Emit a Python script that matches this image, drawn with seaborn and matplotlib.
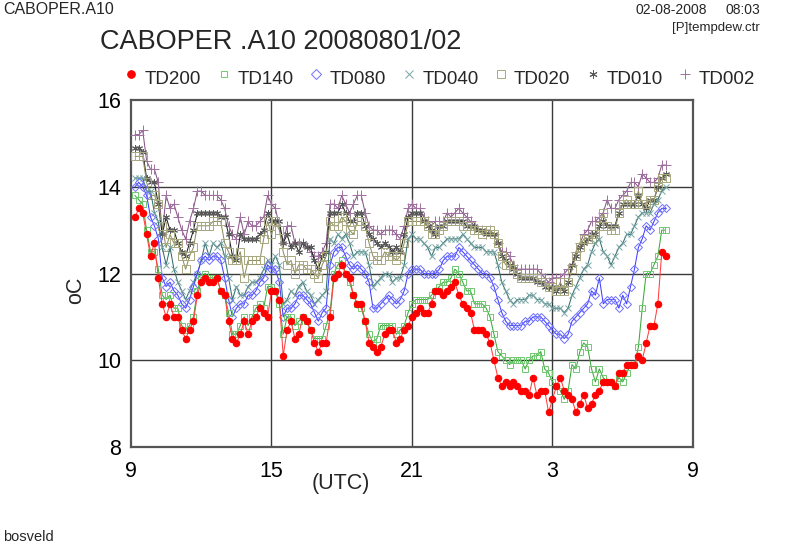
import numpy as np
import pandas as pd
import matplotlib
matplotlib.use("Agg")
import matplotlib.pyplot as plt
from matplotlib.lines import Line2D
import seaborn as sns

# ---------------- data (10-minute values, 09:10 .. 07:50 UTC) ----------------
start_hour = 9 + 10 / 60.0
step_hour = 10 / 60.0

td200 = [13.3, 13.5, 13.4, 12.9, 12.4, 12.7, 11.9, 11.3, 11.0, 11.3, 11.0, 11.0,
         10.7, 10.5, 10.7, 10.9, 11.5, 11.8, 11.9, 11.8, 11.8, 11.9, 11.6, 11.5,
         10.9, 10.5, 10.4, 10.6, 10.9, 10.6, 10.9, 11.0, 11.2, 11.1, 11.0, 11.6,
         11.6,
         11.4, 10.1, 10.7, 10.9, 10.5, 10.6, 11.0, 10.9, 10.7, 10.4, 10.2, 10.4,
         10.4, 11.0, 11.9, 12.0, 12.2, 12.0, 11.9, 11.5, 11.3, 11.3, 10.9, 10.4,
         10.3, 10.2, 10.3, 10.6, 10.7, 10.7, 10.4, 10.5, 10.7, 10.8, 11.0, 11.1, 11.2,
         11.1, 11.1, 11.3, 11.6, 11.6, 11.5, 11.6, 11.7, 11.8, 11.5, 11.3, 11.2,
         11.1, 10.7, 10.7, 10.7, 10.6, 10.4, 10.0, 9.6, 9.4, 9.5, 9.4, 9.5,
         9.4, 9.3, 9.3, 9.2, 9.6, 9.2, 9.3, 9.3, 8.8, 9.1, 9.4, 9.6,
         9.3, 9.2, 9.1, 8.8, 9.0, 9.2, 8.9, 9.0, 9.2, 9.3, 9.5, 9.5,
         9.5, 9.4, 9.7, 9.7, 9.9, 9.9, 9.9, 10.1, 10.0, 10.4, 10.8, 10.8,
         11.3, 12.5, 12.4]

td140 = [13.8, 13.7, 13.6, 13.0, 12.5, 12.5, 12.1, 11.5, 11.4, 11.5, 11.2, 11.2,
         10.8, 10.7, 10.8, 11.0, 11.6, 11.9, 12.0, 11.9, 11.9, 11.9, 11.6, 11.5,
         11.1, 10.6, 10.6, 10.8, 11.0, 10.8, 11.0, 11.2, 11.3, 11.2, 11.7, 11.7,
         11.6,
         11.3, 10.6, 11.0, 11.0, 10.8, 10.9, 11.0, 10.9, 10.7, 10.5, 10.5, 10.5,
         10.8, 11.1, 12.0, 12.2, 12.3, 12.0, 11.8, 11.5, 11.3, 11.2, 10.9, 10.6,
         10.4, 10.5, 10.8, 10.8, 10.8, 10.8, 10.6, 10.7, 10.8, 11.1, 11.3, 11.4, 11.4,
         11.4, 11.4, 11.5, 11.6, 11.7, 11.8, 11.8, 11.9, 12.1, 12.0, 11.8, 11.6,
         11.6, 11.3, 11.3, 11.3, 11.2, 11.0, 10.6, 10.2, 10.1, 10.0, 9.9, 10.0,
         10.0, 10.0, 9.8, 10.0, 10.1, 10.1, 10.2, 9.8, 9.7, 9.5, 9.4, 9.3,
         9.1, 9.3, 9.9, 9.8, 10.2, 10.4, 10.3, 9.8, 9.5, 9.8, 9.6, 9.5,
         9.5, 9.4, 9.6, 9.5, 9.7, 9.9, 9.9, 10.3, 11.2, 12.0, 12.0, 12.2,
         12.4, 13.0, 13.0]

td080 = [14.0, 14.1, 14.0, 13.8, 13.3, 13.1, 12.8, 11.9, 11.7, 11.8, 11.6, 11.5,
         11.3, 11.2, 11.4, 11.7, 12.0, 12.3, 12.4, 12.3, 12.4, 12.4, 12.3, 11.9,
         11.4, 11.0, 11.2, 11.3, 11.3, 11.5, 11.5, 11.6, 11.8, 11.9, 12.2, 12.1,
         12.1,
         11.8, 11.0, 11.2, 11.2, 11.3, 11.5, 11.5, 11.4, 11.3, 11.1, 10.9, 11.1,
         11.2, 12.2, 12.5, 12.6, 12.6, 12.4, 12.2, 12.1, 12.2, 12.1, 12.0, 11.8,
         11.2, 11.2, 11.3, 11.4, 11.5, 11.4, 11.3, 11.4, 11.6, 12.0, 12.1, 12.1, 12.1,
         12.0, 12.0, 12.0, 12.0, 12.1, 12.3, 12.4, 12.4, 12.4, 12.6, 12.5, 12.4,
         12.3, 12.2, 12.1, 12.0, 12.0, 11.9, 11.7, 11.4, 11.1, 10.9, 10.8, 10.8,
         10.8, 10.8, 10.9, 10.9, 11.0, 11.0, 11.0, 10.9, 10.8, 10.7, 10.6, 10.6,
         10.5, 10.6, 10.9, 11.0, 11.1, 11.2, 11.3, 11.6, 11.5, 11.9, 11.3, 11.4,
         11.4, 11.4, 11.2, 11.5, 11.3, 11.7, 12.1, 12.6, 12.8, 13.1, 13.0, 13.2,
         13.4, 13.5, 13.5]

td040 = [14.2, 14.2, 14.2, 13.9, 13.9, 13.4, 13.2, 12.6, 12.2, 12.6, 12.1, 11.8,
         11.6, 11.4, 11.6, 11.8, 12.0, 12.3, 12.7, 12.4, 12.7, 12.6, 12.7, 12.4,
         11.9, 11.4, 11.7, 11.5, 11.5, 11.7, 11.8, 11.8, 11.9, 12.1, 12.3, 12.2,
         12.4,
         12.2, 11.3, 11.4, 11.6, 11.5, 11.7, 11.8, 11.6, 11.5, 11.3, 11.4, 11.5,
         11.6, 12.8, 12.7, 12.9, 12.8, 12.9, 12.7, 12.4, 12.5, 12.5, 12.5, 12.2,
         11.7, 11.8, 11.9, 12.0, 12.0, 11.8, 11.9, 11.9, 12.2, 12.8, 12.9, 12.8, 12.8,
         12.7, 12.6, 12.4, 12.6, 12.6, 12.7, 12.8, 12.8, 12.8, 12.8, 12.9, 12.8,
         12.7, 12.6, 12.6, 12.6, 12.5, 12.5, 12.5, 12.2, 11.8, 11.6, 11.4, 11.3,
         11.4, 11.4, 11.4, 11.5, 11.5, 11.4, 11.4, 11.3, 11.3, 11.2, 11.2, 11.2,
         11.1, 11.2, 11.5, 11.7, 11.9, 12.1, 12.2, 12.5, 12.7, 12.8, 12.5, 12.4,
         12.2, 12.4, 12.6, 12.7, 12.9, 12.9, 13.1, 13.3, 13.4, 13.4, 13.4, 13.6,
         13.7, 13.9, 14.0]

td020 = [14.7, 14.7, 14.7, 14.1, 13.8, 13.8, 13.6, 13.1, 12.6, 12.9, 12.7, 12.7,
         12.4, 12.1, 12.4, 12.6, 13.1, 13.1, 13.1, 13.1, 13.2, 13.2, 13.2, 12.7,
         12.5, 12.3, 12.3, 12.5, 11.9, 12.3, 12.3, 12.3, 12.3, 12.8, 13.2, 12.9,
         13.2,
         13.0, 12.5, 12.2, 12.3, 12.0, 12.2, 12.2, 12.1, 12.1, 12.0, 11.9, 12.2,
         12.4, 13.2, 13.1, 13.1, 13.3, 13.2, 13.0, 12.9, 13.2, 13.2, 13.1, 12.7,
         12.4, 12.3, 12.3, 12.5, 12.4, 12.4, 12.3, 12.4, 12.7, 13.2, 13.2, 13.2, 13.2,
         13.2, 13.1, 12.9, 12.9, 13.0, 13.1, 13.2, 13.2, 13.2, 13.2, 13.1, 13.1,
         13.1, 13.0, 13.0, 12.9, 13.0, 13.0, 12.9, 12.7, 12.4, 12.2, 12.2, 12.1,
         12.0, 11.9, 11.9, 11.9, 11.9, 11.9, 11.8, 11.8, 11.7, 11.7, 11.6, 11.8,
         11.6, 11.8, 12.1, 12.4, 12.6, 12.8, 12.8, 12.8, 12.9, 13.1, 13.4, 13.1,
         13.0, 13.0, 13.4, 13.6, 13.7, 13.6, 13.6, 13.9, 13.6, 13.6, 13.7, 13.7,
         14.0, 14.2, 14.2]

td010 = [14.9, 14.9, 14.8, 14.2, 14.1, 14.1, 13.6, 12.9, 13.3, 13.0, 13.0, 12.7,
         12.5, 12.4, 12.7, 13.0, 13.4, 13.4, 13.4, 13.4, 13.4, 13.4, 13.3, 13.3,
         12.9, 12.4, 12.3, 12.9, 12.8, 12.8, 12.8, 12.8, 12.9, 13.0, 13.4, 13.2,
         13.2,
         13.2, 12.7, 12.9, 12.6, 12.7, 12.5, 12.7, 12.6, 12.6, 12.3, 12.1, 12.4,
         12.5, 13.4, 13.4, 13.4, 13.6, 13.4, 13.2, 13.2, 13.4, 13.4, 13.1, 12.9,
         12.8, 12.7, 12.6, 12.7, 12.6, 12.5, 12.6, 12.5, 12.9, 13.3, 13.4, 13.4, 13.4,
         13.2, 13.1, 13.0, 12.9, 13.1, 13.1, 13.2, 13.2, 13.2, 13.2, 13.2, 13.1,
         13.1, 13.1, 13.0, 13.0, 12.9, 12.9, 12.9, 12.7, 12.4, 12.3, 12.2, 12.1,
         12.0, 11.9, 11.9, 11.9, 11.9, 11.8, 11.8, 11.7, 11.7, 11.7, 11.6, 11.7,
         11.6, 11.8, 12.2, 12.4, 12.6, 12.7, 12.8, 12.9, 12.9, 13.1, 13.2, 13.1,
         13.1, 13.1, 13.4, 13.6, 13.6, 13.6, 13.6, 13.8, 13.6, 13.5, 13.7, 13.7,
         14.0, 14.2, 14.3]

td002 = [15.2, 15.2, 15.3, 14.6, 14.4, 14.4, 14.1, 12.9, 13.8, 13.5, 13.6, 13.3,
         13.0, 12.8, 13.2, 13.5, 13.9, 13.9, 13.8, 13.8, 13.8, 13.8, 13.7, 13.5,
         13.1, 12.9, 12.8, 13.3, 12.9, 13.2, 13.1, 13.1, 13.2, 13.3, 13.8, 13.6,
         13.5,
         13.1, 12.7, 13.1, 13.1, 12.7, 12.7, 12.7, 12.6, 12.5, 12.4, 12.4, 12.5,
         12.7, 13.6, 13.6, 13.5, 13.8, 13.6, 13.4, 13.6, 13.8, 13.8, 13.4, 13.1,
         13.0, 13.0, 12.9, 13.0, 13.0, 13.0, 12.9, 12.8, 13.1, 13.5, 13.6, 13.5, 13.5,
         13.3, 13.2, 13.1, 13.2, 13.2, 13.2, 13.4, 13.3, 13.4, 13.5, 13.4, 13.3,
         13.2, 13.1, 13.0, 13.0, 12.9, 13.0, 12.9, 12.7, 12.5, 12.5, 12.4, 12.2,
         12.1, 12.1, 12.1, 12.1, 12.1, 12.1, 12.0, 11.9, 11.8, 11.9, 11.9, 11.9,
         12.0, 12.1, 12.2, 12.5, 12.7, 12.9, 13.0, 13.2, 13.2, 13.3, 13.4, 13.7,
         13.5, 13.5, 13.7, 13.8, 13.9, 14.1, 14.1, 14.0, 14.3, 14.2, 14.1, 14.1,
         14.2, 14.5, 14.5]

series_names = ["TD200", "TD140", "TD080", "TD040", "TD020", "TD010", "TD002"]
series_values = [td200, td140, td080, td040, td020, td010, td002]

x_ticks = [9, 15, 21, 27, 33]
x_tick_labels = ["9", "15", "21", "3", "9"]
y_ticks = [8, 10, 12, 14, 16]

# ---------------- styles ----------------
styles = {
    "TD200": dict(marker="o", ms=4.6, mfc="#ff0000", mec="#ff0000", lc="#ff4040", mew=0.8),
    "TD140": dict(marker="s", ms=3.8, mfc="none", mec="#70c870", lc="#3aaa3a", mew=0.7),
    "TD080": dict(marker="D", ms=3.8, mfc="none", mec="#7070ff", lc="#4040ff", mew=0.7),
    "TD040": dict(marker="x", ms=5.0, mfc="none", mec="#78a4a4", lc="#336f6f", mew=0.7),
    "TD020": dict(marker="s", ms=5.4, mfc="none", mec="#a8a880", lc="#8f8f60", mew=0.7),
    "TD010": dict(marker=(6, 2, 0), ms=5.0, mfc="none", mec="#5a5a5a", lc="#222222", mew=0.7),
    "TD002": dict(marker="+", ms=6.5, mfc="none", mec="#a070a0", lc="#885588", mew=0.7),
}

rows = []
for name, vals in zip(series_names, series_values):
    for i, v in enumerate(vals):
        rows.append((name, start_hour + i * step_hour, v))
df = pd.DataFrame(rows, columns=["series", "hour", "value"])

sns.set_theme(style="white")
plt.rcParams["font.family"] = ["Liberation Sans", "DejaVu Sans"]

fig = plt.figure(figsize=(7.9, 5.45), dpi=100)
W, H = 790.0, 545.0
ax = fig.add_axes([131 / W, 1 - 447 / H, (693 - 131) / W, (447 - 100) / H])

# grid lines
for gx in [15, 21, 27]:
    ax.axvline(gx, color="#3a3a3a", lw=1.0, zorder=1)
for gy in [10, 12, 14]:
    ax.axhline(gy, color="#3a3a3a", lw=1.0, zorder=1)

for z, name in enumerate(series_names[::-1]):
    st = styles[name]
    sub = df[df["series"] == name]
    sns.lineplot(data=sub, x="hour", y="value", ax=ax, estimator=None, sort=False,
                 color=st["lc"], linewidth=0.75, marker=st["marker"],
                 markersize=st["ms"], markerfacecolor=st["mfc"],
                 markeredgecolor=st["mec"], markeredgewidth=st["mew"],
                 zorder=3 + z, legend=False)

ax.set_xlim(9, 33)
ax.set_ylim(8, 16)
ax.set_xticks(x_ticks)
ax.set_xticklabels(x_tick_labels)
ax.set_yticks(y_ticks)
ax.set_yticklabels([str(v) for v in y_ticks])
ax.tick_params(axis="both", length=0, labelsize=15.5, colors="black")
ax.tick_params(axis="x", pad=10)
ax.tick_params(axis="y", pad=7)
ax.set_xlabel("")
ax.set_ylabel("")
for sp in ax.spines.values():
    sp.set_color("#555555")
    sp.set_linewidth(1.6)
    sp.set_visible(True)

# axis titles
fig.text(341 / W, 1 - 483 / H, "(UTC)", ha="center", va="center", fontsize=15.5)
fig.text(76 / W, 1 - 290 / H, "oC", ha="center", va="center", fontsize=15.5, rotation=90)

# headers
fig.text(3 / W, 1 - 10 / H, "CABOPER.A10", ha="left", va="center", fontsize=11.5)
fig.text(707 / W, 1 - 10 / H, "02-08-2008", ha="right", va="center", fontsize=10)
fig.text(760 / W, 1 - 10 / H, "08:03", ha="right", va="center", fontsize=10)
fig.text(760 / W, 1 - 28 / H, "[P]tempdew.ctr", ha="right", va="center", fontsize=9.5)
fig.text(100 / W, 1 - 42 / H, "CABOPER .A10 20080801/02", ha="left", va="center", fontsize=19.5)
fig.text(3 / W, 1 - 537 / H, "bosveld", ha="left", va="center", fontsize=10.5)

# legend (manual, markers slightly raised)
leg_marker_x = [131, 224, 316, 409, 501, 593, 685]
leg_text_x = [145, 238, 330, 423, 514, 607, 699]
for name, mx, tx in zip(series_names, leg_marker_x, leg_text_x):
    st = styles[name]
    fig.add_artist(Line2D([mx / W], [1 - 74 / H], transform=fig.transFigure,
                          marker=st["marker"], markersize=st["ms"] + 0.8,
                          markerfacecolor=st["mfc"], markeredgecolor=st["mec"],
                          markeredgewidth=st["mew"], linestyle="none"))
    fig.text(tx / W, 1 - 79 / H, name, ha="left", va="center", fontsize=13.5)

fig.savefig("out.png", dpi=100, facecolor="white")
